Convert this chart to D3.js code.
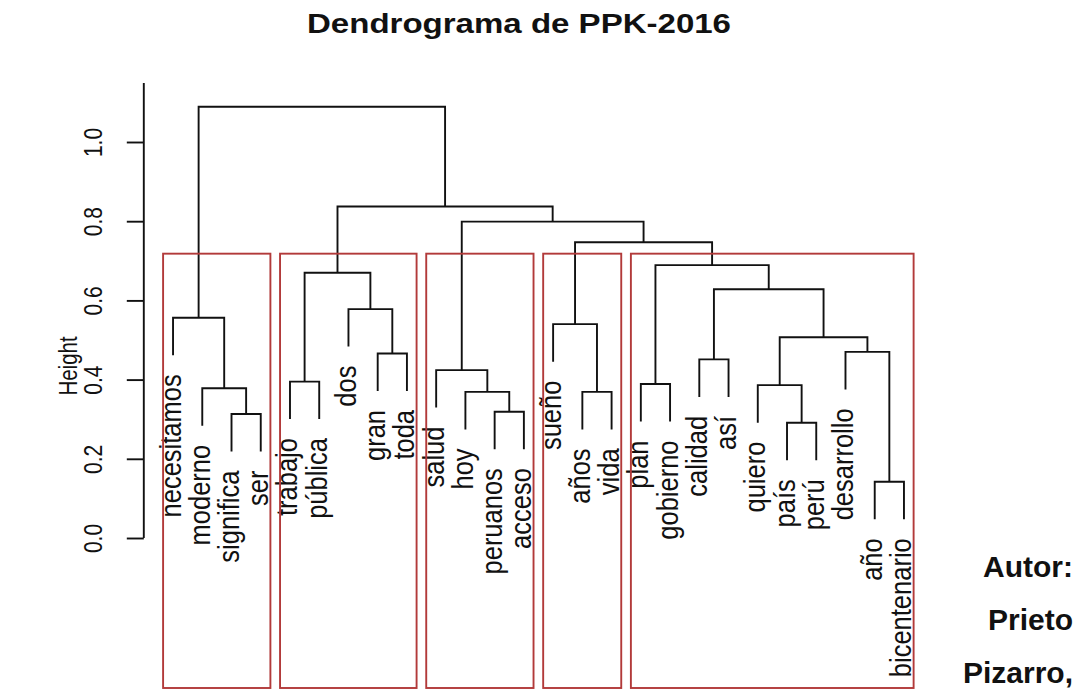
<!DOCTYPE html>
<html>
<head>
<meta charset="utf-8">
<script src="https://cdn.jsdelivr.net/npm/d3@7"></script>
<style>
  body { margin: 0; background: #fff; }
  text { font-family: "Liberation Sans", Arial, sans-serif; fill: #111; }
</style>
</head>
<body>
<svg id="chart" width="1088" height="693"></svg>
<script>
// leaves in plotting order
const leaves = ["necesitamos", "moderno", "significa", "ser", "trabajo", "pública", "dos", "gran", "toda",
  "salud", "hoy", "peruanos", "acceso", "sueño", "años", "vida", "plan", "gobierno", "calidad", "así",
  "quiero", "país", "perú", "desarrollo", "año", "bicentenario"];

// merges like R hclust: negative = leaf number, positive = earlier merge
const merges = [[-25, -26], [-22, -23], [-3, -4], [-12, -13], [-11, 4], [-15, -16], [-2, 3], [-21, 2],
  [-17, -18], [-5, -6], [-10, 5], [-19, -20], [-8, -9], [-24, 1], [8, 14], [-14, 6], [-1, 7], [-7, 13],
  [12, 15], [10, 18], [9, 19], [16, 21], [11, 22], [20, 23], [17, 24]];
const heights = [0.142, 0.291, 0.313, 0.319, 0.369, 0.369, 0.378, 0.386, 0.389, 0.395, 0.424, 0.451,
  0.466, 0.470, 0.507, 0.540, 0.556, 0.578, 0.628, 0.670, 0.689, 0.747, 0.799, 0.837, 1.089];

const yTicks = [0, 0.2, 0.4, 0.6, 0.8, 1.0];
const clusterSizes = [4, 5, 4, 3, 10]; // rect.hclust k = 5
const title = "Dendrograma de PPK-2016";
const yLabel = "Height";
const authorLines = ["Autor:", "Prieto", "Pizarro,"];

function draw() {
    const svg = d3.select("#chart");
    svg.selectAll("*").remove();

    const plotBottom = 688;   // bottom of plot region (rects end here)
    const axisTop = 83;
    const stretch = 1.15;     // picture is a bit wider than tall

    // 1. Scales
    const x = d3.scaleLinear()
        .domain([0, leaves.length + 1])
        .range([143.8, 933.2]);
    const y = d3.scaleLinear()
        .domain([0, 1])
        .range([538, 142]);

    // 2. Node positions
    const hang = 0.1 * (d3.max(heights) - d3.min(heights));
    const nodeX = [];
    const leafH = new Array(leaves.length).fill(0);
    const links = merges.map((m, i) => {
        const h = heights[i];
        const kids = m.map(c => {
            if (c < 0) {
                leafH[-c - 1] = h - hang;
                return { x: -c, top: h - hang };
            }
            return { x: nodeX[c - 1], top: heights[c - 1] };
        });
        nodeX[i] = (kids[0].x + kids[1].x) / 2;
        return { l: kids[0], r: kids[1], h: h };
    });

    // 3. Dendrogram lines
    svg.append("g")
        .selectAll("path")
        .data(links)
        .join("path")
        .attr("fill", "none")
        .attr("stroke", "#111")
        .attr("stroke-width", 1.9)
        .attr("d", d => `M${x(d.l.x)},${y(d.l.top)}V${y(d.h)}H${x(d.r.x)}V${y(d.r.top)}`);

    // 4. Leaf labels (rotated)
    svg.append("g")
        .selectAll("text")
        .data(leaves)
        .join("text")
        .attr("transform", (d, i) => `translate(${x(i + 1) + 7.5},${y(leafH[i]) + 19}) scale(${stretch},1) rotate(-90)`)
        .attr("text-anchor", "end")
        .attr("font-size", 25.5)
        .text(d => d);

    // 5. Cluster rectangles
    const sortedH = heights.slice().sort((a, b) => b - a);
    const k = clusterSizes.length;
    const rectTop = y((sortedH[k - 2] + sortedH[k - 1]) / 2);
    const ends = d3.cumsum(clusterSizes);
    svg.append("g")
        .selectAll("rect")
        .data(clusterSizes)
        .join("rect")
        .attr("x", (d, i) => x(ends[i] - d + 0.66))
        .attr("width", (d, i) => x(ends[i] + 0.33) - x(ends[i] - d + 0.66))
        .attr("y", rectTop)
        .attr("height", plotBottom - rectTop)
        .attr("fill", "none")
        .attr("stroke", "#b23a3a")
        .attr("stroke-width", 1.9);

    // 6. Y axis
    const gy = svg.append("g")
        .attr("transform", `translate(${x(0)},0)`)
        .call(d3.axisLeft(y).tickValues(yTicks).tickSize(17).tickFormat(d3.format(".1f")));
    gy.select(".domain").remove();
    gy.selectAll(".tick line").attr("stroke", "#111").attr("stroke-width", 1.9);
    gy.selectAll(".tick text")
        .attr("transform", "translate(-42,0) scale(1.25,1) rotate(-90)")
        .attr("x", 0)
        .attr("y", 0)
        .attr("dy", 0)
        .attr("text-anchor", "middle")
        .attr("font-size", 21)
        .attr("font-family", null)
        .attr("fill", "#111");
    gy.append("line")
        .attr("y1", y(0))
        .attr("y2", axisTop)
        .attr("stroke", "#111")
        .attr("stroke-width", 1.9);

    svg.append("text")
        .attr("transform", "translate(77,366) scale(1.25,1) rotate(-90)")
        .attr("text-anchor", "middle")
        .attr("font-size", 20.5)
        .text(yLabel);

    // 7. Title and author
    svg.append("text")
        .attr("transform", "translate(519,33) scale(1.18,1)")
        .attr("text-anchor", "middle")
        .attr("font-size", 28)
        .attr("font-weight", "bold")
        .text(title);

    svg.append("g")
        .selectAll("text")
        .data(authorLines)
        .join("text")
        .attr("x", 1073)
        .attr("y", (d, i) => 577 + i * 53)
        .attr("text-anchor", "end")
        .attr("font-size", 30)
        .attr("font-weight", "bold")
        .text(d => d);
}

window.onload = draw;
</script>
</body>
</html>
